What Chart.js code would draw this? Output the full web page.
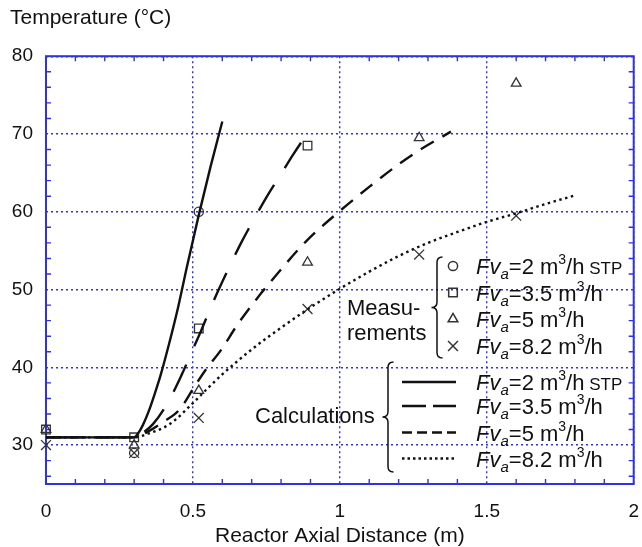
<!DOCTYPE html>
<html>
<head>
<meta charset="utf-8">
<script src="https://cdn.jsdelivr.net/npm/chart.js@4.4.0/dist/chart.umd.min.js"></script>
<style>
  html, body { margin: 0; padding: 0; background: #fff; }
  canvas { display: block; }
</style>
</head>
<body>
<canvas id="tempChart" width="642" height="547"></canvas>
<script>
// measured temperatures (one x/y pair of arrays per flow rate)
const meas2X = [0.3, 0.52];
const meas2Y = [29, 60];
const meas35X = [0, 0.3, 0.52, 0.89];
const meas35Y = [32, 31, 45, 68.5];
const meas5X = [0, 0.3, 0.52, 0.89, 1.27, 1.6];
const meas5Y = [32, 30, 37, 53.5, 69.5, 76.5];
const meas82X = [0, 0.3, 0.52, 0.89, 1.27, 1.6];
const meas82Y = [30, 29, 33.5, 47.5, 54.5, 59.5];

// calculated profiles
const calc2X = [0, 0.3, 0.315, 0.33, 0.35, 0.37, 0.39, 0.42, 0.45, 0.48, 0.52, 0.56, 0.6];
const calc2Y = [31, 31, 31.6, 32.6, 34.4, 36.6, 39, 43.2, 47.8, 53, 59.6, 65.8, 71.6];
const calc35X = [0, 0.3, 0.33, 0.364, 0.415, 0.46, 0.495, 0.53, 0.563, 0.61, 0.664, 0.713, 0.749, 0.804, 0.842, 0.904];
const calc35Y = [31, 31, 31.6, 32.7, 35.5, 38.9, 41.9, 44.9, 47.9, 51.8, 56, 59.4, 61.8, 65.1, 67.4, 70.9];
const calc5X = [0, 0.3, 0.35, 0.4, 0.455, 0.5, 0.54, 0.597, 0.65, 0.715, 0.8, 0.885, 1.0, 1.1, 1.2, 1.27, 1.378];
const calc5Y = [31, 31, 31.8, 33, 34.6, 37.2, 39.5, 42.3, 45.4, 48.7, 52.6, 56.2, 60.1, 63.2, 66.1, 67.9, 70.3];
const calc82X = [0, 0.3, 0.35, 0.421, 0.5, 0.55, 0.6, 0.7, 0.8, 0.9, 1.0, 1.1, 1.2, 1.3, 1.4, 1.5, 1.6, 1.7, 1.8];
const calc82Y = [31, 31, 31.5, 32.7, 35.4, 37.3, 39.1, 42.3, 45.1, 47.7, 50.1, 52.3, 54.3, 56, 57.4, 58.7, 59.8, 61, 62.1];

const xTicks = [0, 0.5, 1, 1.5, 2];
const yTicks = [30, 40, 50, 60, 70, 80];
const flowRates = ['2', '3.5', '5', '8.2'];

const BLUE = 'rgb(48, 48, 232)';
const INK = '#111';
const FONT = '"Liberation Sans", Arial, sans-serif';

const markerStyles = [
    { pointStyle: 'circle', radius: 4.6 },
    { pointStyle: 'rect', radius: 6.1 },
    { pointStyle: 'triangle', radius: 5.6 },
    { pointStyle: 'crossRot', radius: 7 }
];
const lineDashes = [[], [30, 20], [15, 10], [2.5, 3.5]];

function pairs(xs, ys) {
    return xs.map((x, i) => ({ x: x, y: ys[i] }));
}

function calcSet(xs, ys, dash) {
    return {
        data: pairs(xs, ys),
        showLine: true,
        borderColor: INK,
        borderWidth: 2.4,
        borderDash: dash,
        pointRadius: 0,
        cubicInterpolationMode: 'monotone',
        fill: false
    };
}

function measSet(xs, ys, marker) {
    return {
        data: pairs(xs, ys),
        showLine: false,
        pointStyle: marker.pointStyle,
        pointRadius: marker.radius,
        pointBorderColor: '#333',
        pointBackgroundColor: 'rgba(0,0,0,0)',
        pointBorderWidth: 1.3,
        clip: false
    };
}

// curly bracket, tip pointing left
function drawBrace(ctx, x, top, bottom, w) {
    const mid = (top + bottom) / 2;
    ctx.beginPath();
    ctx.moveTo(x + w, top);
    ctx.quadraticCurveTo(x, top, x, top + w);
    ctx.lineTo(x, mid - w);
    ctx.quadraticCurveTo(x, mid, x - w, mid);
    ctx.quadraticCurveTo(x, mid, x, mid + w);
    ctx.lineTo(x, bottom - w);
    ctx.quadraticCurveTo(x, bottom, x + w, bottom);
    ctx.stroke();
}

// "Fv_a=2 m^3/h STP" with italic symbol, subscript and superscript
function drawFlowLabel(ctx, x, y, rate, stp) {
    const base = y + 8;
    const parts = [
        { t: 'F', f: 'italic 22px ' + FONT, dy: 0 },
        { t: 'v', f: 'italic 22px ' + FONT, dy: 0 },
        { t: 'a', f: 'italic 15px ' + FONT, dy: 5 },
        { t: '=' + rate + ' m', f: '22px ' + FONT, dy: 0 },
        { t: '3', f: '14px ' + FONT, dy: -10 },
        { t: '/h', f: '22px ' + FONT, dy: 0 }
    ];
    if (stp) parts.push({ t: ' STP', f: '17px ' + FONT, dy: 0 });
    let cx = x;
    parts.forEach(p => {
        ctx.font = p.f;
        ctx.fillText(p.t, cx, base + p.dy);
        cx += ctx.measureText(p.t).width;
    });
}

function drawMarker(ctx, marker, x, y) {
    const opts = { pointStyle: marker.pointStyle, radius: marker.radius, rotation: 0, borderWidth: 1.3 };
    if (Chart.helpers && Chart.helpers.drawPoint) {
        Chart.helpers.drawPoint(ctx, opts, x, y);
    }
}

// plot frame and inward minor ticks on all four sides
const framePlugin = {
    id: 'frame',
    beforeDatasetsDraw(chart) {
        const { ctx, chartArea: a, scales: { x, y } } = chart;
        ctx.save();
        ctx.strokeStyle = BLUE;
        ctx.lineWidth = 1.4;
        ctx.beginPath();
        for (let v = 1; v < 20; v++) {
            if (v % 5 === 0) continue;
            const px = x.getPixelForValue(v / 10);
            ctx.moveTo(px, a.bottom); ctx.lineTo(px, a.bottom - 5);
            ctx.moveTo(px, a.top); ctx.lineTo(px, a.top + 5);
        }
        for (let v = 26; v < 80; v += 2) {
            if (v % 10 === 0) continue;
            const py = y.getPixelForValue(v);
            ctx.moveTo(a.left, py); ctx.lineTo(a.left + 5, py);
            ctx.moveTo(a.right, py); ctx.lineTo(a.right - 5, py);
        }
        ctx.stroke();
        ctx.lineWidth = 2;
        ctx.strokeRect(a.left, a.top, a.width, a.height);
        ctx.restore();
    }
};

// key drawn inside the plot: measurement markers and calculated line styles
const keyPlugin = {
    id: 'key',
    afterDatasetsDraw(chart) {
        const ctx = chart.ctx;
        ctx.save();
        ctx.fillStyle = INK;
        ctx.strokeStyle = INK;
        ctx.textBaseline = 'alphabetic';

        ctx.font = '22px ' + FONT;
        ctx.fillText('Measu-', 347, 315);
        ctx.fillText('rements', 347, 340);
        ctx.fillText('Calculations', 255, 423);

        ctx.lineWidth = 1.5;
        drawBrace(ctx, 437, 257, 358, 5.5);
        drawBrace(ctx, 388, 362, 472, 5.5);

        const measRows = [266, 292.5, 319, 346];
        const calcRows = [382, 406, 432.5, 458.5];

        measRows.forEach((ry, i) => {
            ctx.strokeStyle = '#333';
            ctx.fillStyle = 'rgba(0,0,0,0)';
            drawMarker(ctx, markerStyles[i], 453, ry);
            ctx.fillStyle = INK;
            drawFlowLabel(ctx, 476, ry, flowRates[i], i === 0);
        });

        const keyDashes = [[], [24, 7], [10, 5], [2.5, 3]];
        calcRows.forEach((ry, i) => {
            ctx.strokeStyle = INK;
            ctx.lineWidth = 2.3;
            ctx.setLineDash(keyDashes[i]);
            ctx.beginPath();
            ctx.moveTo(402, ry);
            ctx.lineTo(456, ry);
            ctx.stroke();
            ctx.setLineDash([]);
            drawFlowLabel(ctx, 476, ry, flowRates[i], i === 0);
        });
        ctx.restore();
    }
};

document.addEventListener('DOMContentLoaded', () => {
    const ctx = document.getElementById('tempChart').getContext('2d');

    const gridOpts = { color: BLUE, lineWidth: 1.4, drawTicks: false };
    const borderOpts = { display: false, dash: [2, 3] };

    new Chart(ctx, {
        type: 'scatter',
        data: {
            datasets: [
                calcSet(calc2X, calc2Y, lineDashes[0]),
                calcSet(calc35X, calc35Y, lineDashes[1]),
                calcSet(calc5X, calc5Y, lineDashes[2]),
                calcSet(calc82X, calc82Y, lineDashes[3]),
                measSet(meas2X, meas2Y, markerStyles[0]),
                measSet(meas35X, meas35Y, markerStyles[1]),
                measSet(meas5X, meas5Y, markerStyles[2]),
                measSet(meas82X, meas82Y, markerStyles[3])
            ]
        },
        options: {
            responsive: false,
            animation: false,
            layout: { padding: { left: 10, right: 7, top: 0, bottom: 0 } },
            plugins: {
                legend: { display: false },
                tooltip: { enabled: false },
                title: {
                    display: true,
                    text: 'Temperature (°C)',
                    align: 'start',
                    color: INK,
                    font: { family: FONT, size: 21, weight: 'normal' },
                    padding: { top: 6, bottom: 25 }
                }
            },
            scales: {
                x: {
                    type: 'linear',
                    min: 0,
                    max: 2,
                    afterBuildTicks: s => { s.ticks = xTicks.map(v => ({ value: v })); },
                    afterFit: s => { s.height = 63; s.paddingLeft = 0; s.paddingRight = 0; },
                    grid: gridOpts,
                    border: borderOpts,
                    ticks: {
                        color: INK,
                        padding: 16,
                        font: { family: FONT, size: 19 },
                        maxRotation: 0,
                        callback: v => String(v)
                    },
                    title: {
                        display: true,
                        text: 'Reactor Axial Distance (m)',
                        color: INK,
                        font: { family: FONT, size: 21, lineHeight: 1 },
                        padding: { top: 0, bottom: 0 }
                    }
                },
                y: {
                    type: 'linear',
                    min: 25,
                    max: 80,
                    afterBuildTicks: s => { s.ticks = yTicks.map(v => ({ value: v })); },
                    afterFit: s => { s.width = 36; },
                    grid: gridOpts,
                    border: borderOpts,
                    ticks: { color: INK, padding: 13, font: { family: FONT, size: 19 } }
                }
            }
        },
        plugins: [framePlugin, keyPlugin]
    });
});
</script>
</body>
</html>
